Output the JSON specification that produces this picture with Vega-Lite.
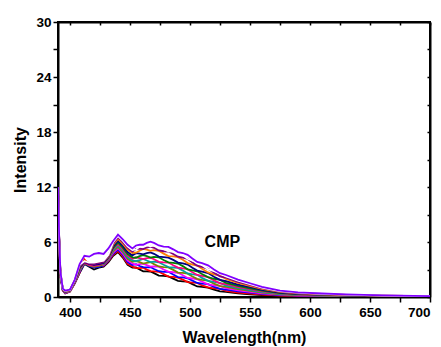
{
"$schema": "https://vega.github.io/schema/vega-lite/v6.json",
"width": 372, "height": 275,
"autosize": "none",
"padding": {"left": 58, "top": 22, "right": 11, "bottom": 50},
"background": "white",
"config": {"view": {"stroke": "black", "strokeWidth": 2}, "font": "Liberation Sans"},
"datasets": {
"spectra": [
{"s":"a","x":390,"y":11.6},{"s":"a","x":391,"y":6.0},{"s":"a","x":392,"y":2.3},{"s":"a","x":394,"y":0.7},{"s":"a","x":396,"y":0.4},{"s":"a","x":400,"y":0.6},{"s":"a","x":404,"y":1.5},{"s":"a","x":408,"y":2.6},{"s":"a","x":412,"y":3.6},{"s":"a","x":416,"y":3.3},{"s":"a","x":420,"y":3.0},{"s":"a","x":424,"y":3.2},{"s":"a","x":428,"y":3.3},{"s":"a","x":432,"y":3.8},{"s":"a","x":436,"y":4.5},{"s":"a","x":440,"y":4.9},{"s":"a","x":444,"y":4.3},{"s":"a","x":448,"y":3.5},{"s":"a","x":452,"y":3.2},{"s":"a","x":458,"y":3.0},{"s":"a","x":464,"y":2.8},{"s":"a","x":470,"y":2.6},{"s":"a","x":478,"y":2.3},{"s":"a","x":486,"y":2.0},{"s":"a","x":494,"y":1.7},{"s":"a","x":502,"y":1.4},{"s":"a","x":510,"y":1.1},{"s":"a","x":520,"y":0.8},{"s":"a","x":530,"y":0.55},{"s":"a","x":540,"y":0.4},{"s":"a","x":550,"y":0.3},{"s":"a","x":560,"y":0.2},{"s":"a","x":575,"y":0.12},{"s":"a","x":590,"y":0.08},{"s":"a","x":610,"y":0.05},{"s":"a","x":630,"y":0.04},{"s":"a","x":660,"y":0.03},{"s":"a","x":700,"y":0.02},
{"s":"b","x":390,"y":11.62},{"s":"b","x":391,"y":6.03},{"s":"b","x":392,"y":2.33},{"s":"b","x":394,"y":0.71},{"s":"b","x":396,"y":0.42},{"s":"b","x":400,"y":0.61},{"s":"b","x":404,"y":1.52},{"s":"b","x":408,"y":2.66},{"s":"b","x":412,"y":4.1},{"s":"b","x":416,"y":3.5},{"s":"b","x":420,"y":3.3},{"s":"b","x":424,"y":3.35},{"s":"b","x":428,"y":3.4},{"s":"b","x":432,"y":3.9},{"s":"b","x":436,"y":4.6},{"s":"b","x":440,"y":5.01},{"s":"b","x":444,"y":4.42},{"s":"b","x":448,"y":3.63},{"s":"b","x":452,"y":3.33},{"s":"b","x":458,"y":3.16},{"s":"b","x":464,"y":2.99},{"s":"b","x":470,"y":2.8},{"s":"b","x":478,"y":2.49},{"s":"b","x":486,"y":2.19},{"s":"b","x":494,"y":1.89},{"s":"b","x":502,"y":1.57},{"s":"b","x":510,"y":1.26},{"s":"b","x":520,"y":0.93},{"s":"b","x":530,"y":0.66},{"s":"b","x":540,"y":0.49},{"s":"b","x":550,"y":0.37},{"s":"b","x":560,"y":0.25},{"s":"b","x":575,"y":0.15},{"s":"b","x":590,"y":0.11},{"s":"b","x":610,"y":0.07},{"s":"b","x":630,"y":0.05},{"s":"b","x":660,"y":0.04},{"s":"b","x":700,"y":0.02},
{"s":"c","x":390,"y":11.66},{"s":"c","x":391,"y":6.07},{"s":"c","x":392,"y":2.37},{"s":"c","x":394,"y":0.73},{"s":"c","x":396,"y":0.44},{"s":"c","x":400,"y":0.63},{"s":"c","x":404,"y":1.56},{"s":"c","x":408,"y":2.74},{"s":"c","x":412,"y":3.65},{"s":"c","x":416,"y":3.4},{"s":"c","x":420,"y":3.2},{"s":"c","x":424,"y":3.3},{"s":"c","x":428,"y":3.45},{"s":"c","x":432,"y":4.0},{"s":"c","x":436,"y":4.72},{"s":"c","x":440,"y":5.17},{"s":"c","x":444,"y":4.58},{"s":"c","x":448,"y":3.81},{"s":"c","x":452,"y":3.49},{"s":"c","x":458,"y":3.38},{"s":"c","x":464,"y":3.23},{"s":"c","x":470,"y":3.06},{"s":"c","x":478,"y":2.75},{"s":"c","x":486,"y":2.45},{"s":"c","x":494,"y":2.13},{"s":"c","x":502,"y":1.79},{"s":"c","x":510,"y":1.46},{"s":"c","x":520,"y":1.11},{"s":"c","x":530,"y":0.81},{"s":"c","x":540,"y":0.61},{"s":"c","x":550,"y":0.47},{"s":"c","x":560,"y":0.33},{"s":"c","x":575,"y":0.2},{"s":"c","x":590,"y":0.14},{"s":"c","x":610,"y":0.1},{"s":"c","x":630,"y":0.07},{"s":"c","x":660,"y":0.05},{"s":"c","x":700,"y":0.03},
{"s":"d","x":390,"y":11.69},{"s":"d","x":391,"y":6.11},{"s":"d","x":392,"y":2.41},{"s":"d","x":394,"y":0.74},{"s":"d","x":396,"y":0.47},{"s":"d","x":400,"y":0.64},{"s":"d","x":404,"y":1.59},{"s":"d","x":408,"y":2.82},{"s":"d","x":412,"y":3.8},{"s":"d","x":416,"y":3.55},{"s":"d","x":420,"y":3.35},{"s":"d","x":424,"y":3.45},{"s":"d","x":428,"y":3.5},{"s":"d","x":432,"y":4.05},{"s":"d","x":436,"y":4.85},{"s":"d","x":440,"y":5.32},{"s":"d","x":444,"y":4.74},{"s":"d","x":448,"y":3.98},{"s":"d","x":452,"y":3.66},{"s":"d","x":458,"y":3.59},{"s":"d","x":464,"y":3.48},{"s":"d","x":470,"y":3.33},{"s":"d","x":478,"y":3.0},{"s":"d","x":486,"y":2.7},{"s":"d","x":494,"y":2.38},{"s":"d","x":502,"y":2.02},{"s":"d","x":510,"y":1.67},{"s":"d","x":520,"y":1.28},{"s":"d","x":530,"y":0.96},{"s":"d","x":540,"y":0.73},{"s":"d","x":550,"y":0.56},{"s":"d","x":560,"y":0.4},{"s":"d","x":575,"y":0.25},{"s":"d","x":590,"y":0.17},{"s":"d","x":610,"y":0.12},{"s":"d","x":630,"y":0.09},{"s":"d","x":660,"y":0.06},{"s":"d","x":700,"y":0.04},
{"s":"e","x":390,"y":11.72},{"s":"e","x":391,"y":6.15},{"s":"e","x":392,"y":2.45},{"s":"e","x":394,"y":0.76},{"s":"e","x":396,"y":0.49},{"s":"e","x":400,"y":0.66},{"s":"e","x":404,"y":1.62},{"s":"e","x":408,"y":2.9},{"s":"e","x":412,"y":3.7},{"s":"e","x":416,"y":3.45},{"s":"e","x":420,"y":3.3},{"s":"e","x":424,"y":3.4},{"s":"e","x":428,"y":3.55},{"s":"e","x":432,"y":4.1},{"s":"e","x":436,"y":4.98},{"s":"e","x":440,"y":5.47},{"s":"e","x":444,"y":4.9},{"s":"e","x":448,"y":4.16},{"s":"e","x":452,"y":3.83},{"s":"e","x":458,"y":3.81},{"s":"e","x":464,"y":3.73},{"s":"e","x":470,"y":3.59},{"s":"e","x":478,"y":3.26},{"s":"e","x":486,"y":2.96},{"s":"e","x":494,"y":2.63},{"s":"e","x":502,"y":2.24},{"s":"e","x":510,"y":1.88},{"s":"e","x":520,"y":1.46},{"s":"e","x":530,"y":1.11},{"s":"e","x":540,"y":0.85},{"s":"e","x":550,"y":0.66},{"s":"e","x":560,"y":0.47},{"s":"e","x":575,"y":0.29},{"s":"e","x":590,"y":0.21},{"s":"e","x":610,"y":0.15},{"s":"e","x":630,"y":0.11},{"s":"e","x":660,"y":0.07},{"s":"e","x":700,"y":0.04},
{"s":"f","x":390,"y":11.75},{"s":"f","x":391,"y":6.19},{"s":"f","x":392,"y":2.49},{"s":"f","x":394,"y":0.78},{"s":"f","x":396,"y":0.51},{"s":"f","x":400,"y":0.68},{"s":"f","x":404,"y":1.65},{"s":"f","x":408,"y":2.98},{"s":"f","x":412,"y":3.85},{"s":"f","x":416,"y":3.6},{"s":"f","x":420,"y":3.45},{"s":"f","x":424,"y":3.55},{"s":"f","x":428,"y":3.6},{"s":"f","x":432,"y":4.15},{"s":"f","x":436,"y":5.11},{"s":"f","x":440,"y":5.62},{"s":"f","x":444,"y":5.06},{"s":"f","x":448,"y":4.34},{"s":"f","x":452,"y":4.0},{"s":"f","x":458,"y":4.03},{"s":"f","x":464,"y":3.98},{"s":"f","x":470,"y":3.85},{"s":"f","x":478,"y":3.52},{"s":"f","x":486,"y":3.22},{"s":"f","x":494,"y":2.88},{"s":"f","x":502,"y":2.46},{"s":"f","x":510,"y":2.09},{"s":"f","x":520,"y":1.64},{"s":"f","x":530,"y":1.25},{"s":"f","x":540,"y":0.97},{"s":"f","x":550,"y":0.76},{"s":"f","x":560,"y":0.54},{"s":"f","x":575,"y":0.34},{"s":"f","x":590,"y":0.24},{"s":"f","x":610,"y":0.18},{"s":"f","x":630,"y":0.13},{"s":"f","x":660,"y":0.08},{"s":"f","x":700,"y":0.05},
{"s":"g","x":390,"y":11.78},{"s":"g","x":391,"y":6.23},{"s":"g","x":392,"y":2.53},{"s":"g","x":394,"y":0.79},{"s":"g","x":396,"y":0.54},{"s":"g","x":400,"y":0.69},{"s":"g","x":404,"y":1.68},{"s":"g","x":408,"y":3.06},{"s":"g","x":412,"y":3.75},{"s":"g","x":416,"y":3.5},{"s":"g","x":420,"y":3.4},{"s":"g","x":424,"y":3.5},{"s":"g","x":428,"y":3.65},{"s":"g","x":432,"y":4.2},{"s":"g","x":436,"y":5.24},{"s":"g","x":440,"y":5.77},{"s":"g","x":444,"y":5.22},{"s":"g","x":448,"y":4.51},{"s":"g","x":452,"y":4.17},{"s":"g","x":458,"y":4.24},{"s":"g","x":464,"y":4.23},{"s":"g","x":470,"y":4.12},{"s":"g","x":478,"y":3.77},{"s":"g","x":486,"y":3.47},{"s":"g","x":494,"y":3.13},{"s":"g","x":502,"y":2.69},{"s":"g","x":510,"y":2.3},{"s":"g","x":520,"y":1.81},{"s":"g","x":530,"y":1.4},{"s":"g","x":540,"y":1.09},{"s":"g","x":550,"y":0.85},{"s":"g","x":560,"y":0.61},{"s":"g","x":575,"y":0.39},{"s":"g","x":590,"y":0.27},{"s":"g","x":610,"y":0.2},{"s":"g","x":630,"y":0.15},{"s":"g","x":660,"y":0.09},{"s":"g","x":700,"y":0.06},
{"s":"h","x":390,"y":11.82},{"s":"h","x":391,"y":6.27},{"s":"h","x":392,"y":2.57},{"s":"h","x":394,"y":0.81},{"s":"h","x":396,"y":0.56},{"s":"h","x":400,"y":0.71},{"s":"h","x":404,"y":1.72},{"s":"h","x":408,"y":3.14},{"s":"h","x":412,"y":3.9},{"s":"h","x":416,"y":3.65},{"s":"h","x":420,"y":3.55},{"s":"h","x":424,"y":3.65},{"s":"h","x":428,"y":3.7},{"s":"h","x":432,"y":4.3},{"s":"h","x":436,"y":5.36},{"s":"h","x":440,"y":5.93},{"s":"h","x":444,"y":5.38},{"s":"h","x":448,"y":4.69},{"s":"h","x":452,"y":4.33},{"s":"h","x":458,"y":4.46},{"s":"h","x":464,"y":4.47},{"s":"h","x":470,"y":4.38},{"s":"h","x":478,"y":4.03},{"s":"h","x":486,"y":3.73},{"s":"h","x":494,"y":3.37},{"s":"h","x":502,"y":2.91},{"s":"h","x":510,"y":2.5},{"s":"h","x":520,"y":1.99},{"s":"h","x":530,"y":1.55},{"s":"h","x":540,"y":1.21},{"s":"h","x":550,"y":0.95},{"s":"h","x":560,"y":0.69},{"s":"h","x":575,"y":0.43},{"s":"h","x":590,"y":0.31},{"s":"h","x":610,"y":0.23},{"s":"h","x":630,"y":0.17},{"s":"h","x":660,"y":0.11},{"s":"h","x":700,"y":0.06},
{"s":"i","x":390,"y":11.86},{"s":"i","x":391,"y":6.32},{"s":"i","x":392,"y":2.62},{"s":"i","x":394,"y":0.83},{"s":"i","x":396,"y":0.59},{"s":"i","x":400,"y":0.73},{"s":"i","x":404,"y":1.76},{"s":"i","x":408,"y":3.24},{"s":"i","x":412,"y":3.8},{"s":"i","x":416,"y":3.6},{"s":"i","x":420,"y":3.5},{"s":"i","x":424,"y":3.6},{"s":"i","x":428,"y":3.75},{"s":"i","x":432,"y":4.35},{"s":"i","x":436,"y":5.52},{"s":"i","x":440,"y":6.12},{"s":"i","x":444,"y":5.58},{"s":"i","x":448,"y":4.91},{"s":"i","x":452,"y":4.54},{"s":"i","x":458,"y":4.73},{"s":"i","x":464,"y":4.78},{"s":"i","x":470,"y":4.71},{"s":"i","x":478,"y":4.35},{"s":"i","x":486,"y":4.05},{"s":"i","x":494,"y":3.68},{"s":"i","x":502,"y":3.19},{"s":"i","x":510,"y":2.76},{"s":"i","x":520,"y":2.21},{"s":"i","x":530,"y":1.73},{"s":"i","x":540,"y":1.36},{"s":"i","x":550,"y":1.07},{"s":"i","x":560,"y":0.78},{"s":"i","x":575,"y":0.49},{"s":"i","x":590,"y":0.35},{"s":"i","x":610,"y":0.26},{"s":"i","x":630,"y":0.19},{"s":"i","x":660,"y":0.12},{"s":"i","x":700,"y":0.07},
{"s":"j","x":390,"y":11.9},{"s":"j","x":391,"y":6.38},{"s":"j","x":392,"y":2.68},{"s":"j","x":394,"y":0.85},{"s":"j","x":396,"y":0.63},{"s":"j","x":400,"y":0.75},{"s":"j","x":404,"y":1.8},{"s":"j","x":408,"y":3.36},{"s":"j","x":412,"y":3.95},{"s":"j","x":416,"y":3.7},{"s":"j","x":420,"y":3.65},{"s":"j","x":424,"y":3.75},{"s":"j","x":428,"y":3.85},{"s":"j","x":432,"y":4.45},{"s":"j","x":436,"y":5.72},{"s":"j","x":440,"y":6.34},{"s":"j","x":444,"y":5.82},{"s":"j","x":448,"y":5.17},{"s":"j","x":452,"y":4.8},{"s":"j","x":458,"y":5.05},{"s":"j","x":464,"y":5.16},{"s":"j","x":470,"y":5.11},{"s":"j","x":478,"y":4.73},{"s":"j","x":486,"y":4.43},{"s":"j","x":494,"y":4.06},{"s":"j","x":502,"y":3.53},{"s":"j","x":510,"y":3.08},{"s":"j","x":520,"y":2.47},{"s":"j","x":530,"y":1.96},{"s":"j","x":540,"y":1.54},{"s":"j","x":550,"y":1.21},{"s":"j","x":560,"y":0.88},{"s":"j","x":575,"y":0.56},{"s":"j","x":590,"y":0.4},{"s":"j","x":610,"y":0.3},{"s":"j","x":630,"y":0.22},{"s":"j","x":660,"y":0.14},{"s":"j","x":700,"y":0.08},
{"s":"k","x":390,"y":11.94},{"s":"k","x":391,"y":6.42},{"s":"k","x":392,"y":2.72},{"s":"k","x":394,"y":0.87},{"s":"k","x":396,"y":0.65},{"s":"k","x":400,"y":0.77},{"s":"k","x":404,"y":1.84},{"s":"k","x":408,"y":3.44},{"s":"k","x":412,"y":3.85},{"s":"k","x":416,"y":3.65},{"s":"k","x":420,"y":3.6},{"s":"k","x":424,"y":3.7},{"s":"k","x":428,"y":3.8},{"s":"k","x":432,"y":4.5},{"s":"k","x":436,"y":5.84},{"s":"k","x":440,"y":6.5},{"s":"k","x":444,"y":5.98},{"s":"k","x":448,"y":5.35},{"s":"k","x":452,"y":4.96},{"s":"k","x":458,"y":5.27},{"s":"k","x":464,"y":5.4},{"s":"k","x":470,"y":5.37},{"s":"k","x":478,"y":4.99},{"s":"k","x":486,"y":4.69},{"s":"k","x":494,"y":4.3},{"s":"k","x":502,"y":3.75},{"s":"k","x":510,"y":3.28},{"s":"k","x":520,"y":2.65},{"s":"k","x":530,"y":2.1},{"s":"k","x":540,"y":1.66},{"s":"k","x":550,"y":1.31},{"s":"k","x":560,"y":0.96},{"s":"k","x":575,"y":0.61},{"s":"k","x":590,"y":0.43},{"s":"k","x":610,"y":0.33},{"s":"k","x":630,"y":0.24},{"s":"k","x":660,"y":0.15},{"s":"k","x":700,"y":0.09},
{"s":"l","x":390,"y":11.97},{"s":"l","x":391,"y":6.46},{"s":"l","x":392,"y":2.76},{"s":"l","x":394,"y":0.88},{"s":"l","x":396,"y":0.68},{"s":"l","x":400,"y":0.78},{"s":"l","x":404,"y":1.87},{"s":"l","x":408,"y":3.52},{"s":"l","x":412,"y":3.9},{"s":"l","x":416,"y":3.75},{"s":"l","x":420,"y":3.75},{"s":"l","x":424,"y":3.85},{"s":"l","x":428,"y":3.95},{"s":"l","x":432,"y":4.6},{"s":"l","x":436,"y":5.97},{"s":"l","x":440,"y":6.65},{"s":"l","x":444,"y":6.14},{"s":"l","x":448,"y":5.52},{"s":"l","x":452,"y":5.13},{"s":"l","x":458,"y":5.48},{"s":"l","x":464,"y":5.65},{"s":"l","x":470,"y":5.64},{"s":"l","x":478,"y":5.24},{"s":"l","x":486,"y":4.94},{"s":"l","x":494,"y":4.55},{"s":"l","x":502,"y":3.98},{"s":"l","x":510,"y":3.49},{"s":"l","x":520,"y":2.82},{"s":"l","x":530,"y":2.25},{"s":"l","x":540,"y":1.78},{"s":"l","x":550,"y":1.4},{"s":"l","x":560,"y":1.03},{"s":"l","x":575,"y":0.65},{"s":"l","x":590,"y":0.47},{"s":"l","x":610,"y":0.35},{"s":"l","x":630,"y":0.26},{"s":"l","x":660,"y":0.16},{"s":"l","x":700,"y":0.09},
{"s":"m","x":390,"y":12.0},{"s":"m","x":391,"y":6.5},{"s":"m","x":392,"y":2.8},{"s":"m","x":394,"y":0.9},{"s":"m","x":396,"y":0.7},{"s":"m","x":400,"y":0.8},{"s":"m","x":404,"y":1.9},{"s":"m","x":408,"y":3.6},{"s":"m","x":412,"y":4.5},{"s":"m","x":416,"y":4.4},{"s":"m","x":420,"y":4.7},{"s":"m","x":424,"y":4.8},{"s":"m","x":428,"y":4.7},{"s":"m","x":432,"y":5.3},{"s":"m","x":436,"y":6.1},{"s":"m","x":440,"y":6.8},{"s":"m","x":444,"y":6.3},{"s":"m","x":448,"y":5.7},{"s":"m","x":452,"y":5.3},{"s":"m","x":458,"y":5.7},{"s":"m","x":464,"y":5.9},{"s":"m","x":470,"y":5.9},{"s":"m","x":478,"y":5.5},{"s":"m","x":486,"y":5.2},{"s":"m","x":494,"y":4.8},{"s":"m","x":502,"y":4.2},{"s":"m","x":510,"y":3.7},{"s":"m","x":520,"y":3.0},{"s":"m","x":530,"y":2.4},{"s":"m","x":540,"y":1.9},{"s":"m","x":550,"y":1.5},{"s":"m","x":560,"y":1.1},{"s":"m","x":575,"y":0.7},{"s":"m","x":590,"y":0.5},{"s":"m","x":610,"y":0.38},{"s":"m","x":630,"y":0.28},{"s":"m","x":660,"y":0.17},{"s":"m","x":700,"y":0.1},
{"s":"a","x":455,"y":3.22},{"s":"a","x":461,"y":2.8},{"s":"a","x":467,"y":2.78},{"s":"a","x":474,"y":2.33},{"s":"a","x":482,"y":2.25},{"s":"a","x":490,"y":1.77},{"s":"a","x":498,"y":1.67},{"s":"a","x":506,"y":1.15},{"s":"a","x":515,"y":1.03},{"s":"a","x":525,"y":0.62},
{"s":"b","x":455,"y":3.15},{"s":"b","x":461,"y":3.2},{"s":"b","x":467,"y":2.82},{"s":"b","x":474,"y":2.75},{"s":"b","x":482,"y":2.22},{"s":"b","x":490,"y":2.12},{"s":"b","x":498,"y":1.63},{"s":"b","x":506,"y":1.54},{"s":"b","x":515,"y":1.04},{"s":"b","x":525,"y":0.88},
{"s":"c","x":455,"y":3.59},{"s":"c","x":461,"y":3.26},{"s":"c","x":467,"y":3.27},{"s":"c","x":474,"y":2.81},{"s":"c","x":482,"y":2.75},{"s":"c","x":490,"y":2.17},{"s":"c","x":498,"y":2.04},{"s":"c","x":506,"y":1.53},{"s":"c","x":515,"y":1.41},{"s":"c","x":525,"y":0.88},
{"s":"d","x":455,"y":3.51},{"s":"d","x":461,"y":3.64},{"s":"d","x":467,"y":3.31},{"s":"d","x":474,"y":3.31},{"s":"d","x":482,"y":2.77},{"s":"d","x":490,"y":2.64},{"s":"d","x":498,"y":2.08},{"s":"d","x":506,"y":1.93},{"s":"d","x":515,"y":1.38},{"s":"d","x":525,"y":1.22},
{"s":"e","x":455,"y":3.92},{"s":"e","x":461,"y":3.65},{"s":"e","x":467,"y":3.81},{"s":"e","x":474,"y":3.33},{"s":"e","x":482,"y":3.23},{"s":"e","x":490,"y":2.66},{"s":"e","x":498,"y":2.54},{"s":"e","x":506,"y":1.98},{"s":"e","x":515,"y":1.79},{"s":"e","x":525,"y":1.19},
{"s":"f","x":455,"y":3.92},{"s":"f","x":461,"y":4.16},{"s":"f","x":467,"y":3.8},{"s":"f","x":474,"y":3.79},{"s":"f","x":482,"y":3.27},{"s":"f","x":490,"y":3.17},{"s":"f","x":498,"y":2.57},{"s":"f","x":506,"y":2.42},{"s":"f","x":515,"y":1.77},{"s":"f","x":525,"y":1.53},
{"s":"g","x":455,"y":4.33},{"s":"g","x":461,"y":4.14},{"s":"g","x":467,"y":4.28},{"s":"g","x":474,"y":3.83},{"s":"g","x":482,"y":3.76},{"s":"g","x":490,"y":3.2},{"s":"g","x":498,"y":3.03},{"s":"g","x":506,"y":2.4},{"s":"g","x":515,"y":2.16},{"s":"g","x":525,"y":1.49},
{"s":"h","x":455,"y":4.28},{"s":"h","x":461,"y":4.57},{"s":"h","x":467,"y":4.29},{"s":"h","x":474,"y":4.33},{"s":"h","x":482,"y":3.78},{"s":"h","x":490,"y":3.65},{"s":"h","x":498,"y":3.02},{"s":"h","x":506,"y":2.81},{"s":"h","x":515,"y":2.17},{"s":"h","x":525,"y":1.87},
{"s":"i","x":455,"y":4.78},{"s":"i","x":461,"y":4.66},{"s":"i","x":467,"y":4.87},{"s":"i","x":474,"y":4.41},{"s":"i","x":482,"y":4.3},{"s":"i","x":490,"y":3.75},{"s":"i","x":498,"y":3.54},{"s":"i","x":506,"y":2.88},{"s":"i","x":515,"y":2.61},{"s":"i","x":525,"y":1.87},
{"s":"j","x":455,"y":4.83},{"s":"j","x":461,"y":5.25},{"s":"j","x":467,"y":5.04},{"s":"j","x":474,"y":5.04},{"s":"j","x":482,"y":4.46},{"s":"j","x":490,"y":4.35},{"s":"j","x":498,"y":3.7},{"s":"j","x":506,"y":3.43},{"s":"j","x":515,"y":2.68},{"s":"j","x":525,"y":2.32},
{"s":"k","x":455,"y":5.24},{"s":"k","x":461,"y":5.22},{"s":"k","x":467,"y":5.49},{"s":"k","x":474,"y":5.08},{"s":"k","x":482,"y":4.96},{"s":"k","x":490,"y":4.4},{"s":"k","x":498,"y":4.17},{"s":"k","x":506,"y":3.42},{"s":"k","x":515,"y":3.07},{"s":"k","x":525,"y":2.26},
{"s":"l","x":455,"y":5.19},{"s":"l","x":461,"y":5.67},{"s":"l","x":467,"y":5.53},{"s":"l","x":474,"y":5.58},{"s":"l","x":482,"y":4.99},{"s":"l","x":490,"y":4.87},{"s":"l","x":498,"y":4.17},{"s":"l","x":506,"y":3.84},{"s":"l","x":515,"y":3.04},{"s":"l","x":525,"y":2.64},
{"s":"m","x":455,"y":5.62},{"s":"m","x":461,"y":5.7},{"s":"m","x":467,"y":6.04},{"s":"m","x":474,"y":5.62},{"s":"m","x":482,"y":5.47},{"s":"m","x":490,"y":4.9},{"s":"m","x":498,"y":4.6},{"s":"m","x":506,"y":3.83},{"s":"m","x":515,"y":3.45},{"s":"m","x":525,"y":2.6}
],
"label": [{"text":"CMP","x":527,"y":5.95}]
},
"layer": [
{
"data": {"name": "spectra"},
"mark": {"type": "line", "strokeWidth": 1.8, "clip": true},
"encoding": {
"x": {"field": "x", "type": "quantitative", "scale": {"domain": [390, 700], "nice": false, "zero": false},
"axis": {"orient": "bottom", "title": "Wavelength(nm)", "values": [400,425,450,475,500,525,550,575,600,625,650,675,700],
"labelExpr": "datum.value % 50 == 0 ? datum.label : ''", "grid": false,
"domainColor": "black", "domainWidth": 2, "tickColor": "black", "tickWidth": 1.5, "tickSize": 5,
"labelFont": "Liberation Sans", "labelFontSize": 13.5, "labelFontWeight": "bold", "labelColor": "black", "labelPadding": 3,
"titleFont": "Liberation Sans", "titleFontSize": 16, "titleFontWeight": "bold", "titleColor": "black", "titlePadding": 11}},
"y": {"field": "y", "type": "quantitative", "scale": {"domain": [0, 30], "nice": false},
"axis": {"orient": "left", "title": "Intensity", "values": [0,3,6,9,12,15,18,21,24,27,30],
"labelExpr": "datum.value % 6 == 0 ? datum.label : ''", "grid": false,
"domainColor": "black", "domainWidth": 2, "tickColor": "black", "tickWidth": 1.5, "tickSize": 5,
"labelFont": "Liberation Sans", "labelFontSize": 13.5, "labelFontWeight": "bold", "labelColor": "black", "labelPadding": 2,
"titleFont": "Liberation Sans", "titleFontSize": 16, "titleFontWeight": "bold", "titleColor": "black", "titlePadding": 7}},
"color": {"field": "s", "type": "nominal", "legend": null,
"scale": {"domain": ["a","b","c","d","e","f","g","h","i","j","k","l","m"],
"range": ["#000000","#ff0000","#0000ff","#ff00ff","#808000","#00a0a0","#ff0080","#008000","#000080","#ff8000","#800080","#ffffff","#8000ff"]}},
"order": {"field": "x", "type": "quantitative"}
}
},
{
"data": {"name": "label"},
"mark": {"type": "text", "font": "Liberation Sans", "fontSize": 16, "fontWeight": "bold", "color": "black", "align": "center", "baseline": "middle"},
"encoding": {
"x": {"field": "x", "type": "quantitative",
"axis": {"orient": "top", "title": null, "labels": false, "values": [400,425,450,475,500,525,550,575,600,625,650,675,700], "grid": false,
"domainColor": "black", "domainWidth": 2, "tickColor": "black", "tickWidth": 1.5, "tickSize": -3}},
"y": {"field": "y", "type": "quantitative",
"axis": {"orient": "right", "title": null, "labels": false, "values": [0,3,6,9,12,15,18,21,24,27,30], "grid": false,
"domainColor": "black", "domainWidth": 2, "tickColor": "black", "tickWidth": 1.5, "tickSize": -3}},
"text": {"field": "text"}
}
}
],
"resolve": {"axis": {"x": "independent", "y": "independent"}}
}
